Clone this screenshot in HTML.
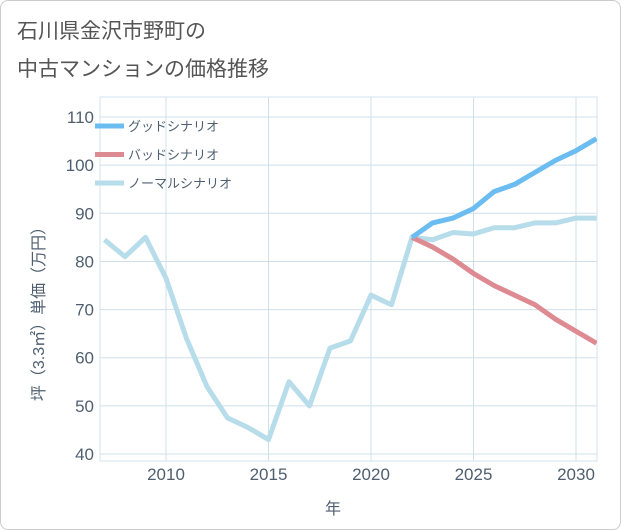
<!DOCTYPE html>
<html><head><meta charset="utf-8"><style>
body{margin:0;background:#fff;}
#wrap{position:relative;width:619px;height:528px;border:1px solid #ccc;border-radius:8px;overflow:hidden;font-family:"Liberation Sans","Noto Sans CJK JP",sans-serif;}
.t{position:absolute;left:16px;color:#555;font-size:21px;}
</style></head><body>
<div id="wrap">
<div class="t" style="top:14px">石川県金沢市野町の</div>
<div class="t" style="top:52px">中古マンションの価格推移</div>
<svg id="svg" width="621" height="530" style="position:absolute;left:-1px;top:-1px"></svg>
</div>
<script>
const years=[2007,2008,2009,2010,2011,2012,2013,2014,2015,2016,2017,2018,2019,2020,2021,2022,2023,2024,2025,2026,2027,2028,2029,2030,2031];
const normal=[84.5,81,85,76.5,64,54,47.5,45.5,43,55,50,62,63.5,73,71,85,84.5,86,85.7,87,87,88,88,89,89];
const goodYears=[2022,2023,2024,2025,2026,2027,2028,2029,2030,2031];
const good=[85,88,89,91,94.5,96,98.5,101,103,105.5];
const bad=[85,83,80.5,77.5,75,73,71,68,65.5,63];
const yTicks=[40,50,60,70,80,90,100,110];
const xTicks=[2010,2015,2020,2025,2030];
const legendNames=["グッドシナリオ","バッドシナリオ","ノーマルシナリオ"];
const legendColors=["#6bbcf0","#de8a92","#b7dcea"];
const NS="http://www.w3.org/2000/svg";
const svg=document.getElementById('svg');
const L=100,R=597,T=97,B=461;
const TXT='#4f5f70';
const xs=v=>166+(v-2010)*20.5;
const ys=v=>454-(v-40)*4.814;
function mk(tag,attrs,parent){const e=document.createElementNS(NS,tag);for(const k in attrs)e.setAttribute(k,attrs[k]);(parent||svg).appendChild(e);return e;}
mk('rect',{x:L,y:T,width:R-L,height:B-T,fill:'none',stroke:'#d5e3ec'});
yTicks.forEach(v=>{
 const g=mk('line',{x1:L,x2:R,y1:ys(v),y2:ys(v),stroke:'#cfe0ea'});
 
 
 const t=mk('text',{x:L-6,y:ys(v)+6,'text-anchor':'end','font-size':17,fill:TXT});
 t.textContent=v;
 
 
});
xTicks.forEach(v=>{
 const g=mk('line',{x1:xs(v),x2:xs(v),y1:T,y2:B,stroke:'#cfe0ea'});
 
 
 const t=mk('text',{x:xs(v),y:480,'text-anchor':'middle','font-size':17,fill:TXT});
 t.textContent=v;
 
 
});
const xt=mk('text',{x:333,y:514,'text-anchor':'middle','font-size':16,fill:TXT});
xt.textContent='年';


const yt=mk('text',{x:0,y:0,'text-anchor':'middle','font-size':16,fill:TXT,transform:'translate(44,310) rotate(-90)'});
yt.textContent='坪（3.3㎡）単価（万円）';


const cp=mk('clipPath',{id:'cp'});mk('rect',{x:L,y:T,width:R-L,height:B-T},cp);
function line(xa,ya,color,name){
 const d=xa.map((x,i)=>(i?'L':'M')+xs(x)+','+ys(ya[i])).join(' ');
 const p=mk('path',{d:d,fill:'none',stroke:color,'stroke-width':5,'stroke-linejoin':'round','clip-path':'url(#cp)'});
 
 
}
line(years,normal,legendColors[2],'normal-scenario-line');
line(goodYears,bad,legendColors[1],'bad-scenario-line');
line(goodYears,good,legendColors[0],'good-scenario-line');
legendNames.forEach((n,i)=>{
 const y=126+i*28.5;
 const l=mk('line',{x1:95,x2:124,y1:y,y2:y,stroke:legendColors[i],'stroke-width':5});
 
 
 const t=mk('text',{x:128,y:y+5,'font-size':13,fill:TXT});
 t.textContent=n;
 
 
});
</script>
</body></html>
